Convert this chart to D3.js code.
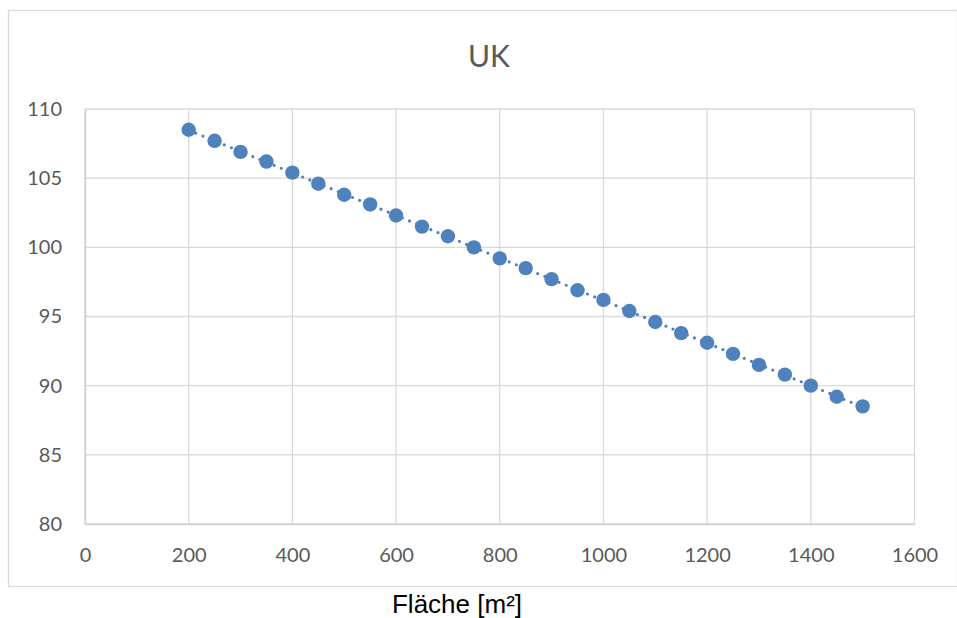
<!DOCTYPE html>
<html><head><meta charset="utf-8">
<script src="https://cdn.jsdelivr.net/npm/d3@7"></script>
<style>body{margin:0;background:#fff}svg{display:block}</style>
</head><body>
<script>
const title = "UK";
const xLabel = "Fläche [m²]";
const areas = [200,250,300,350,400,450,500,550,600,650,700,750,800,850,900,950,1000,1050,1100,1150,1200,1250,1300,1350,1400,1450,1500];
const values = [108.5,107.7,106.9,106.2,105.4,104.6,103.8,103.1,102.3,101.5,100.8,100.0,99.2,98.5,97.7,96.9,96.2,95.4,94.6,93.8,93.1,92.3,91.5,90.8,90.0,89.2,88.5];
const xTicks = [0,200,400,600,800,1000,1200,1400,1600];
const yTicks = [80,85,90,95,100,105,110];

const W = 957, H = 618;
const svg = d3.select("body").append("svg").attr("width", W).attr("height", H);
svg.append("rect").attr("x",8.5).attr("y",10.5).attr("width",W-8).attr("height",576)
  .attr("fill","#fff").attr("stroke","#d9d9d9").attr("stroke-width",1.3);

const x = d3.scaleLinear().domain([0,1600]).range([85,914.5]);
const y = d3.scaleLinear().domain([80,110]).range([524,109]);

const grid = svg.append("g").attr("stroke","#d9d9d9").attr("stroke-width",1.3);
grid.selectAll(".v").data(xTicks).join("line")
  .attr("x1",d=>x(d)).attr("x2",d=>x(d)).attr("y1",y(80)).attr("y2",y(110));
grid.selectAll(".h").data(yTicks).join("line")
  .attr("x1",x(0)).attr("x2",x(1600)).attr("y1",d=>y(d)).attr("y2",d=>y(d));

const font = "Lato, 'Open Sans', sans-serif";
const xAxis = svg.append("g").attr("transform",`translate(0,${y(80)})`)
  .call(d3.axisBottom(x).tickValues(xTicks).tickFormat(d3.format("d")).tickSize(0).tickPadding(24));
const yAxis = svg.append("g").attr("transform",`translate(${x(0)},0)`)
  .call(d3.axisLeft(y).tickValues(yTicks).tickFormat(d3.format("d")).tickSize(0).tickPadding(23));
[xAxis,yAxis].forEach(a=>{
  a.select(".domain").attr("stroke","#d0d0d0").attr("stroke-width",1.5);
  a.selectAll("text").attr("fill","#595959").style("font-family",font).style("font-size","20px");
});

// linear trendline (least squares)
const n = areas.length;
const mx = d3.mean(areas), my = d3.mean(values);
const b = d3.sum(areas.map((a,i)=>(a-mx)*(values[i]-my))) / d3.sum(areas.map(a=>(a-mx)**2));
const a0 = my - b*mx;
const ends = [areas[0], areas[n-1]];
svg.append("path").datum(ends)
  .attr("d", d3.line().x(d=>x(d)).y(d=>y(a0+b*d)))
  .attr("stroke","#4f81bd").attr("stroke-width",3.2).attr("stroke-linecap","round")
  .attr("stroke-dasharray","0 7.7").attr("fill","none");

svg.append("g").selectAll("circle").data(areas).join("circle")
  .attr("cx",d=>x(d)).attr("cy",(d,i)=>y(values[i])).attr("r",7.2)
  .attr("fill","#4f81bd");

svg.append("text").attr("x",489).attr("y",67).attr("text-anchor","middle")
  .attr("fill","#595959").style("font-family",font).style("font-size","30px").text(title);
svg.append("text").attr("x",457).attr("y",613).attr("text-anchor","middle")
  .attr("fill","#000").style("font-family","'Liberation Sans', Arial, sans-serif").style("font-size","26px").text(xLabel);
</script>
</body></html>
